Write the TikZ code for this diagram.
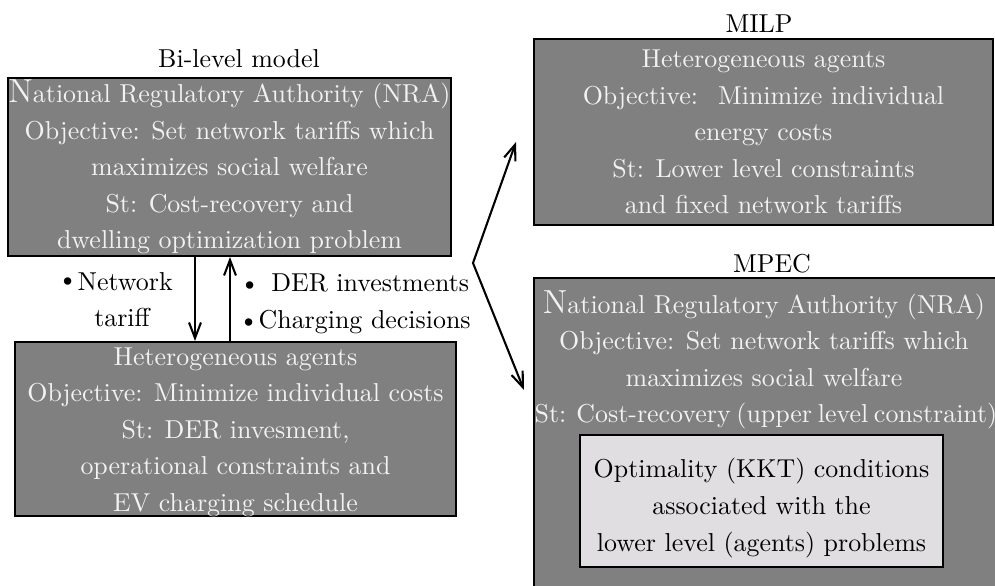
\documentclass[tikz,border=0pt]{standalone}
\usetikzlibrary{arrows.meta}
\newcommand\pxu{0.386pt}
\newcommand\capN{{\fontsize{12.9}{14.1}\selectfont N}}
\definecolor{boxgray}{RGB}{128,128,128}
\definecolor{boxtext}{RGB}{242,242,242}
\definecolor{kktgray}{RGB}{224,222,224}
\begin{document}
\begin{tikzpicture}[x=0.386pt,y=-0.386pt,
  box/.style={draw=black, line width=0.8pt, fill=boxgray, inner sep=0pt,
    text=boxtext, align=center, font=\fontsize{10}{14.1}\selectfont},
  plain/.style={inner sep=0pt, font=\fontsize{10}{14.1}\selectfont},
  arr/.style={line width=0.8pt, -{Straight Barb[length=6pt,width=4.6pt]}},
  dblarr/.style={line width=0.8pt, {Straight Barb[length=6pt,width=4.6pt]}-{Straight Barb[length=6pt,width=4.6pt]}}]
\useasboundingbox (0,0) rectangle (995,586);
\clip (0,0) rectangle (995,586);

% left bi-level model
\node[plain, anchor=base] (bihead) at (239,68) {Bi-level model};
\node[box, minimum width=441*\pxu, minimum height=178*\pxu] (nra) at (229.5,167)
  {\capN ational Regulatory Authority (NRA)\\Objective: Set network tariffs which\\maximizes social welfare\\St: Cost-recovery and\\dwelling optimization problem};
\node[box, minimum width=441*\pxu, minimum height=174*\pxu] (agents) at (235.5,429) {};
\node[plain, text=boxtext, align=center] (agentstext) at (235.5,432)
  {Heterogeneous agents\\Objective: Minimize individual costs\\St: DER invesment,\\operational constraints and\\EV charging schedule};

\draw[arr] (195,0 |- nra.south) -- (195,0 |- agents.north);
\draw[arr] (230,0 |- agents.north) -- (230,0 |- nra.south);

\node[plain, anchor=base west] (network) at (57,291) {\raisebox{1.5pt}{\textbullet}Network};
\node[plain, anchor=base] (tariff) at (122,327) {tariff};
\node[plain, anchor=base west] (der) at (239,292) {\textbullet\hspace{4.5pt}DER investments};
\node[plain, anchor=base west] (chg) at (238,329) {\textbullet Charging decisions};

% right side
\node[plain, anchor=base] (milphead) at (759,33) {MILP};
\node[box, minimum width=459*\pxu, minimum height=186*\pxu] (milp) at (763.5,132)
  {Heterogeneous agents\\Objective:~ Minimize individual\\energy costs\\St: Lower level constraints\\and fixed network tariffs};

\node[plain, anchor=base] (mpechead) at (772,273) {MPEC};
\node[box, minimum width=466*\pxu, minimum height=322*\pxu] (mpec) at (767,439) {};
\node[plain, text=boxtext, align=center] (mpectext) at (764,360)
  {\capN ational Regulatory Authority (NRA)\\Objective: Set network tariffs which\\maximizes social welfare\\\makebox[177pt][s]{St: Cost-recovery (upper level constraint)}};
\node[box, fill=kktgray, minimum width=363*\pxu, minimum height=132*\pxu] (kkt) at (761.5,501) {};
\node[plain, text=black, align=center] (kkttext) at (761.5,508)
  {Optimality (KKT) conditions\\associated with the\\lower level (agents) problems};

\coordinate (apex) at (473,263);
\coordinate (milptip) at (516,142);
\coordinate (mpectip) at (524,390);
\draw[dblarr] (milptip) -- (apex) -- (mpectip);
\end{tikzpicture}
\end{document}
